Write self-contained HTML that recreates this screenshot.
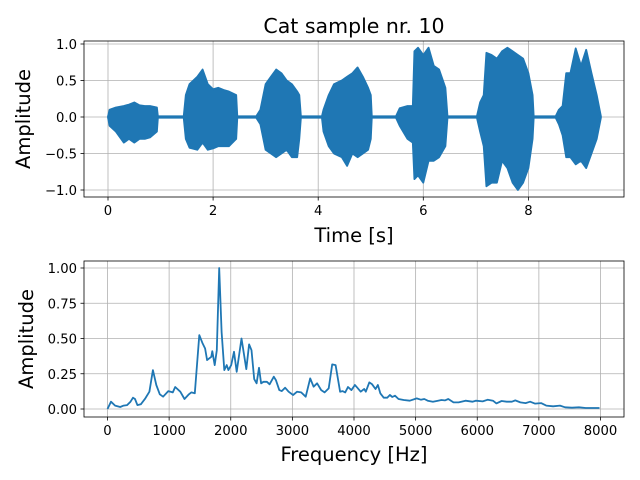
<!DOCTYPE html>
<html><head><meta charset="utf-8"><style>
html,body{margin:0;padding:0;background:#fff;}
svg{display:block;font-family:"DejaVu Sans","Liberation Sans",sans-serif;}
</style></head><body>
<svg id="c" width="640" height="480" viewBox="0 0 640 480">
<text x="354" y="33" font-size="20.5" text-anchor="middle">Cat sample nr. 10</text>
<g id="topAx"></g>
<g id="botAx"></g>
<text x="354" y="242" font-size="19.5" text-anchor="middle">Time [s]</text>
<text x="354" y="461" font-size="19.5" text-anchor="middle">Frequency [Hz]</text>
<text transform="translate(30,119) rotate(-90)" font-size="19.5" text-anchor="middle">Amplitude</text>
<text transform="translate(33,339) rotate(-90)" font-size="19.5" text-anchor="middle">Amplitude</text>
</svg>
<script>
const waveT=[0,0.03,0.15,0.3,0.4,0.5,0.6,0.7,0.8,0.93,0.95,1.44,1.48,1.55,1.7,1.8,1.9,2.0,2.1,2.2,2.3,2.44,2.46,2.82,2.9,3.0,3.1,3.2,3.3,3.4,3.5,3.6,3.64,3.67,4.07,4.1,4.2,4.3,4.45,4.55,4.65,4.75,4.85,4.95,5.0,5.02,5.48,5.55,5.7,5.8,5.83,5.9,6.0,6.1,6.2,6.3,6.42,6.46,7.02,7.08,7.15,7.2,7.3,7.4,7.5,7.6,7.7,7.8,7.9,8.0,8.08,8.1,8.52,8.58,8.65,8.72,8.8,8.9,9.0,9.1,9.2,9.3,9.38];
const waveUpper=[0.01,0.1,0.13,0.15,0.17,0.2,0.16,0.15,0.15,0.13,0.01,0.01,0.3,0.45,0.55,0.65,0.45,0.38,0.4,0.37,0.35,0.3,0.01,0.01,0.1,0.45,0.55,0.65,0.6,0.5,0.45,0.35,0.3,0.01,0.01,0.1,0.3,0.45,0.5,0.55,0.6,0.68,0.55,0.4,0.3,0.01,0.01,0.12,0.15,0.15,0.9,0.95,0.85,0.95,0.7,0.65,0.4,0.01,0.01,0.2,0.3,0.88,0.85,0.8,0.9,0.95,0.9,0.85,0.8,0.6,0.3,0.01,0.01,0.1,0.15,0.6,0.6,0.94,0.7,0.92,0.6,0.3,0.01];
const waveLower=[-0.01,-0.12,-0.2,-0.35,-0.3,-0.35,-0.3,-0.3,-0.28,-0.2,-0.01,-0.01,-0.3,-0.42,-0.45,-0.35,-0.45,-0.43,-0.4,-0.4,-0.4,-0.3,-0.01,-0.01,-0.1,-0.45,-0.5,-0.55,-0.5,-0.45,-0.55,-0.55,-0.3,-0.01,-0.01,-0.2,-0.4,-0.5,-0.55,-0.67,-0.5,-0.55,-0.5,-0.45,-0.3,-0.01,-0.01,-0.12,-0.3,-0.35,-0.85,-0.8,-0.9,-0.6,-0.6,-0.55,-0.4,-0.01,-0.01,-0.2,-0.4,-0.95,-0.9,-0.9,-0.6,-0.7,-0.9,-1.0,-0.9,-0.7,-0.3,-0.01,-0.01,-0.1,-0.25,-0.55,-0.55,-0.65,-0.6,-0.7,-0.5,-0.3,-0.01];
const specFreq=[0,56,123,206,262,318,374,413,446,485,541,613,680,736,792,848,903,987,1059,1098,1182,1249,1321,1360,1416,1489,1544,1583,1617,1684,1700,1739,1773,1812,1851,1896,1935,1962,2007,2052,2096,2174,2252,2297,2336,2381,2420,2459,2492,2531,2587,2631,2698,2732,2788,2827,2882,2938,3011,3077,3144,3217,3289,3345,3401,3468,3523,3590,3646,3702,3774,3813,3858,3903,3958,4014,4053,4109,4165,4192,4248,4293,4349,4388,4426,4482,4538,4583,4622,4666,4722,4806,4906,5018,5084,5140,5196,5280,5363,5419,5475,5530,5614,5698,5809,5921,5976,6088,6172,6255,6311,6395,6478,6562,6618,6701,6785,6857,6935,7036,7119,7231,7342,7426,7537,7649,7760,7983];
const specAmp=[0,.052,.024,.014,.024,.028,.052,.080,.071,.028,.033,.075,.123,.276,.170,.104,.087,.127,.118,.156,.123,.071,.104,.118,.111,.524,.465,.429,.347,.370,.410,.311,.417,1.0,.547,.276,.311,.276,.311,.406,.264,.500,.283,.458,.417,.212,.182,.292,.182,.193,.193,.175,.229,.205,.134,.127,.151,.123,.099,.123,.118,.087,.217,.158,.182,.134,.118,.146,.316,.311,.123,.127,.118,.156,.134,.170,.151,.123,.142,.123,.189,.175,.142,.170,.111,.080,.080,.099,.085,.094,.071,.064,.059,.075,.066,.071,.059,.052,.059,.064,.061,.071,.047,.047,.059,.052,.059,.054,.066,.059,.040,.057,.052,.052,.061,.047,.042,.052,.038,.042,.024,.019,.024,.012,.009,.012,.007,.007];
const topXTicks=[0,2,4,6,8];
const topYTicks=[1.0,0.5,0.0,-0.5,-1.0];
const topYLabels=["1.0","0.5","0.0","\u22120.5","\u22121.0"];
const botXTicks=[0,1000,2000,3000,4000,5000,6000,7000,8000];
const botYTicks=[0,0.25,0.5,0.75,1.0];
const botYLabels=["0.00","0.25","0.50","0.75","1.00"];

const NS="http://www.w3.org/2000/svg";
function mk(parent,tag,attrs){const e=document.createElementNS(NS,tag);for(const k in attrs)e.setAttribute(k,attrs[k]);parent.appendChild(e);return e;}

const tx=t=>108+t*52.55, ty=v=>117-v*73;
const fx=f=>107.5+f*0.061625, fy=v=>409-v*141;

function axes(g,L,R,T,B,xt,xl,xs,yt,yl,ys,nm){
  xt.forEach((v,i)=>{const x=xs(v);
    const gl=mk(g,'line',{x1:x,x2:x,y1:T,y2:B,stroke:'#b0b0b0','stroke-width':0.8});
    
    
    mk(g,'line',{x1:x,x2:x,y1:B,y2:B+3.5,stroke:'#000','stroke-width':0.8});
    const t=mk(g,'text',{x:x,y:B+18,'font-size':13.2,'text-anchor':'middle'});t.textContent=xl[i];
    
    });
  yt.forEach((v,i)=>{const y=ys(v);
    const gl=mk(g,'line',{x1:L,x2:R,y1:y,y2:y,stroke:'#b0b0b0','stroke-width':0.8});
    
    
    mk(g,'line',{x1:L-3.5,x2:L,y1:y,y2:y,stroke:'#000','stroke-width':0.8});
    const t=mk(g,'text',{x:L-7,y:y+5,'font-size':13.2,'text-anchor':'end'});t.textContent=yl[i];
    
    });
}
const topG=document.getElementById('topAx'), botG=document.getElementById('botAx');
axes(topG,84,624,41,197,topXTicks,topXTicks.map(String),tx,topYTicks,topYLabels,ty,'waveform');
axes(botG,84,624,261,417,botXTicks,botXTicks.map(String),fx,botYTicks,botYLabels,fy,'spectrum');

let pts=waveT.map((t,i)=>tx(t).toFixed(1)+','+ty(waveUpper[i]).toFixed(1));
for(let i=waveT.length-1;i>=0;i--)pts.push(tx(waveT[i]).toFixed(1)+','+ty(waveLower[i]).toFixed(1));
const wf=mk(topG,'polygon',{points:pts.join(' '),fill:'#1f77b4',stroke:'#1f77b4','stroke-width':1.8,'stroke-linejoin':'round'});



const sp=mk(botG,'polyline',{points:specFreq.map((f,i)=>fx(f).toFixed(1)+','+fy(specAmp[i]).toFixed(1)).join(' '),fill:'none',stroke:'#1f77b4','stroke-width':1.8,'stroke-linejoin':'round'});



const f1=mk(topG,'rect',{x:84,y:41,width:540,height:156,fill:'none',stroke:'#000','stroke-width':0.8});


const f2=mk(botG,'rect',{x:84,y:261,width:540,height:156,fill:'none',stroke:'#000','stroke-width':0.8});


</script>
</body></html>
